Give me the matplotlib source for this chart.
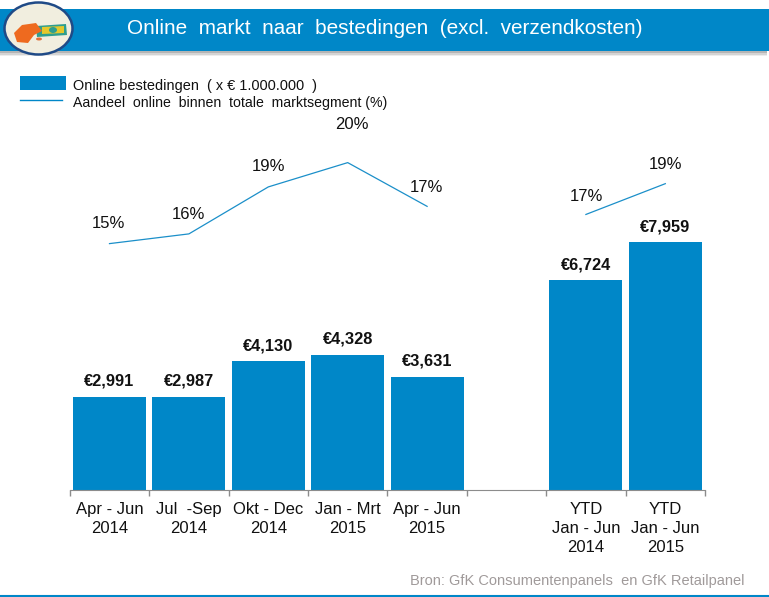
import numpy as np
import matplotlib
matplotlib.use("Agg")
import matplotlib.pyplot as plt
from matplotlib.patches import Ellipse, Polygon, Rectangle

plt.rcParams['font.family'] = ['Liberation Sans', 'DejaVu Sans']

# Data (empty slot between the quarters and the YTD bars)
categories = ["Apr - Jun\n2014", "Jul  -Sep\n2014", "Okt - Dec\n2014", "Jan - Mrt\n2015",
              "Apr - Jun\n2015", "", "YTD\nJan - Jun\n2014", "YTD\nJan - Jun\n2015"]
spend = [2991, 2987, 4130, 4328, 3631, np.nan, 6724, 7959]
spend_labels = ["€2,991", "€2,987", "€4,130", "€4,328", "€3,631", "", "€6,724", "€7,959"]
share = [15.0, 15.6, 18.5, 20.0, 17.3, np.nan, 16.8, 18.7]
share_labels = ["15%", "16%", "19%", "20%", "17%", "", "17%", "19%"]

BLUE = "#0087C8"
W, H = 769, 597


def main():
    fig = plt.figure(figsize=(W / 100, H / 100), dpi=100)

    # Overlay in pixel coordinates for banner, logo, legend
    bg = fig.add_axes([0, 0, 1, 1])
    bg.set_xlim(0, W)
    bg.set_ylim(H, 0)
    bg.axis("off")

    # Banner with soft shadow
    for i, a in enumerate([0.10, 0.16, 0.24]):
        bg.add_patch(Rectangle((0, 51), W - 2, 5 - i * 1.5, color="#555555", alpha=a, lw=0))
    bg.add_patch(Rectangle((0, 9), W, 42, color=BLUE, lw=0))
    bg.text(384.5, 28.5, "Online  markt  naar  bestedingen  (excl.  verzendkosten)",
            color="white", fontsize=14.95, ha="center", va="center")

    # Logo
    bg.add_patch(Ellipse((38.5, 28.5), 68, 52, fc="#F1EEDF", ec="#1F4A87", lw=1.8, zorder=3))
    bg.add_patch(Polygon([(36, 26), (66, 24), (67, 35), (37, 37)], fc="#2E9E8F", ec="none", zorder=4))
    bg.add_patch(Polygon([(42, 27), (64, 26), (64, 33), (42, 34)], fc="#E5C82B", ec="none", zorder=4))
    bg.add_patch(Ellipse((53, 30), 8, 6, fc="#2E9E8F", ec="none", zorder=5))
    bg.add_patch(Polygon([(14, 33), (22, 25), (36, 23), (42, 31), (34, 35), (28, 43), (17, 42)],
                         fc="#EE6A1F", ec="none", zorder=6))
    bg.add_patch(Ellipse((39, 39), 6, 3, fc="#E2703A", ec="none", zorder=6))

    # Legend
    bg.add_patch(Rectangle((20, 76), 46, 14, color=BLUE, lw=0))
    bg.plot([20, 62], [100, 100], color=BLUE, lw=1)
    bg.text(73, 86, "Online bestedingen  ( x € 1.000.000  )", fontsize=10.45, va="center", color="#111111")
    bg.text(73, 103, "Aandeel  online  binnen  totale  marktsegment (%)", fontsize=10.2,
            va="center", color="#111111")

    # Source and bottom rule
    bg.text(745, 581, "Bron: GfK Consumentenpanels  en GfK Retailpanel", fontsize=10.55,
            color="#A09A9A", ha="right", va="center")
    bg.plot([0, W], [596, 596], color=BLUE, lw=1.5)

    # Chart axes: x 70..705 px, y 100..490 px
    ax = fig.add_axes([69.8 / W, 1 - 489.6 / H, 635.2 / W, 390 / H])
    ax.patch.set_alpha(0)
    x = np.arange(len(categories))
    ax.bar(x, spend, width=0.92, color=BLUE)
    ax.set_xlim(-0.5, len(categories) - 0.5)
    ax.set_ylim(0, 12540)
    for xi, v, lab in zip(x, spend, spend_labels):
        if lab:
            ax.annotate(lab, (xi, v), xytext=(0, 8), textcoords="offset pixels", ha="center",
                        va="bottom", fontsize=11.8, fontweight="bold", color="#111111")

    ax.set_xticks(np.arange(-0.5, len(categories)))
    ax.set_xticklabels([])
    ax.set_xticks(x, minor=True)
    ax.set_xticklabels(categories, minor=True, fontsize=12, color="#111111", linespacing=1.32)
    ax.tick_params(axis="x", which="major", length=4.5, color="#8C8C8C", width=1)
    ax.tick_params(axis="x", which="minor", length=0, pad=9)
    ax.set_yticks([])
    for s in ["top", "left", "right"]:
        ax.spines[s].set_visible(False)
    ax.spines["bottom"].set_color("#8C8C8C")

    # Share line on a hidden second axis
    ax2 = ax.twinx()
    ax2.set_ylim(-0.185, 23.89)
    ax2.axis("off")
    ax2.plot(x, share, color="#1B8FC9", lw=0.9)
    offsets = [(-1, 13), (0, 12), (0, 13), (4, 31), (-1, 11), (0, 0), (1, 10), (0, 12)]
    for xi, v, lab, off in zip(x, share, share_labels, offsets):
        if lab:
            ax2.annotate(lab, (xi, v), xytext=off, textcoords="offset pixels", ha="center",
                         va="bottom", fontsize=12, color="#111111")

    fig.savefig("out.png", dpi=100)


if __name__ == '__main__':
    main()
